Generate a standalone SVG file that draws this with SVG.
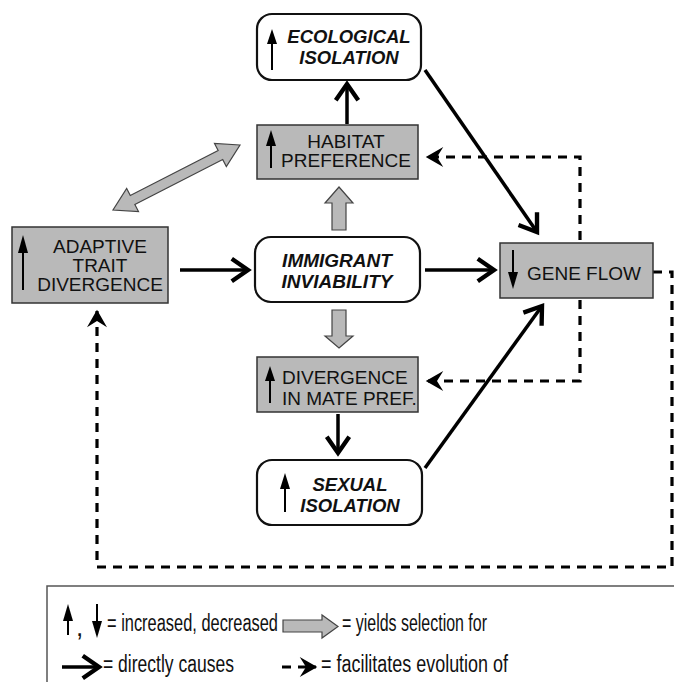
<svg xmlns="http://www.w3.org/2000/svg" width="674" height="682" viewBox="0 0 674 682">
<style>
.t{font-family:"Liberation Sans",Arial,sans-serif;font-size:19px;fill:#111}
.i{font-family:"Liberation Sans",Arial,sans-serif;font-size:18.5px;font-weight:bold;font-style:italic;fill:#111}
.lg{font-family:"Liberation Sans",Arial,sans-serif;font-size:23px;fill:#111}
.rbox{fill:#fff;stroke:#111;stroke-width:2.2}
.gbox{fill:#b9b9b9;stroke:#333;stroke-width:1.5}
.c{fill:none;stroke:#000;stroke-width:3.5}
.d{fill:none;stroke:#000;stroke-width:3.2;stroke-dasharray:9 7}
.ia{stroke:#000;stroke-width:2}
.blk{fill:#b9b9b9;stroke:#444;stroke-width:1.2}
</style>
<defs>
<marker id="oa" markerUnits="userSpaceOnUse" markerWidth="30" markerHeight="30" viewBox="-16 -12 20 24" refX="0" refY="0" orient="auto">
<path d="M-13,-9 L0,0 L-13,9" fill="none" stroke="#000" stroke-width="3.5"/>
</marker>
<marker id="da" markerUnits="userSpaceOnUse" markerWidth="30" markerHeight="30" viewBox="-16 -12 20 24" refX="0" refY="0" orient="auto">
<path d="M1,0 L-13,-8 L-8,0 L-13,8 Z" fill="#000"/>
</marker>
</defs>
<rect width="674" height="682" fill="#fff"/>

<g id="connectors">
<line class="c" x1="347" y1="124" x2="347" y2="84" marker-end="url(#oa)"/>
<line class="c" x1="180" y1="270" x2="248" y2="270" marker-end="url(#oa)"/>
<line class="c" x1="425" y1="270" x2="494" y2="270" marker-end="url(#oa)"/>
<line class="c" x1="425" y1="70" x2="537" y2="232" marker-end="url(#oa)"/>
<line class="c" x1="425" y1="468" x2="542" y2="306" marker-end="url(#oa)"/>
<line class="c" x1="338" y1="414" x2="338" y2="453" marker-end="url(#oa)"/>
<path class="d" d="M580,240 V157 H427" marker-end="url(#da)"/>
<path class="d" d="M580,300 V381 H427" marker-end="url(#da)"/>
<path class="d" d="M653,272 H672 V567 H97 V311" marker-end="url(#da)"/>
<polygon class="blk" points="339,187 353,203 346,203 346,230 332,230 332,203 325,203"/>
<polygon class="blk" points="339,348 353,336 346,336 346,310 332,310 332,336 325,336"/>
<polygon class="blk" points="240,145 214.5,143.45 218.14,150.57 130.3,195.53 126.66,188.41 113,210 138.5,211.55 134.86,204.43 222.7,159.47 226.34,166.59"/>
</g>

<g id="ecological">
<rect class="rbox" x="257" y="14" width="164" height="66" rx="15"/>
<line class="ia" x1="272" y1="70" x2="272" y2="38"/>
<path d="M272,29 L277,44 L267,44 Z"/>
<text class="i" x="349" y="43" text-anchor="middle">ECOLOGICAL</text>
<text class="i" x="349" y="64" text-anchor="middle">ISOLATION</text>
</g>

<g id="habitat">
<rect class="gbox" x="257" y="125" width="161" height="54"/>
<line class="ia" x1="271" y1="168" x2="271" y2="138"/>
<path d="M271,130 L276,146 L266,146 Z"/>
<text class="t" x="346" y="148" text-anchor="middle">HABITAT</text>
<text class="t" x="346" y="167" text-anchor="middle">PREFERENCE</text>
</g>

<g id="adaptive">
<rect class="gbox" x="12" y="227" width="156" height="76"/>
<line class="ia" x1="23" y1="290" x2="23" y2="243"/>
<path d="M23,235 L28,253 L18,253 Z"/>
<text class="t" x="100" y="253" text-anchor="middle">ADAPTIVE</text>
<text class="t" x="100" y="272" text-anchor="middle">TRAIT</text>
<text class="t" x="100" y="291" text-anchor="middle">DIVERGENCE</text>
</g>

<g id="immigrant">
<rect class="rbox" x="255" y="237" width="165" height="65" rx="16"/>
<text class="i" x="337" y="267" text-anchor="middle" style="font-size:19px">IMMIGRANT</text>
<text class="i" x="337" y="288" text-anchor="middle" style="font-size:19px">INVIABILITY</text>
</g>

<g id="geneflow">
<rect class="gbox" x="500" y="243" width="153" height="55"/>
<line class="ia" x1="513" y1="250" x2="513" y2="280"/>
<path d="M513,289 L518,272 L508,272 Z"/>
<text class="t" x="527" y="280">GENE FLOW</text>
</g>

<g id="divergence">
<rect class="gbox" x="257" y="357" width="161" height="55"/>
<line class="ia" x1="270" y1="403" x2="270" y2="374"/>
<path d="M270,366 L275,381 L265,381 Z"/>
<text class="t" x="282" y="384">DIVERGENCE</text>
<text class="t" x="282" y="405">IN MATE PREF.</text>
</g>

<g id="sexual">
<rect class="rbox" x="257" y="460" width="165" height="65" rx="15"/>
<line class="ia" x1="285" y1="512" x2="285" y2="480"/>
<path d="M285,473 L290,489 L280,489 Z"/>
<text class="i" x="350" y="491" text-anchor="middle">SEXUAL</text>
<text class="i" x="350" y="512" text-anchor="middle">ISOLATION</text>
</g>

<g id="legend">
<rect x="47" y="586" width="640" height="110" fill="none" stroke="#555" stroke-width="1.5"/>
<line class="ia" x1="68" y1="635" x2="68" y2="612"/>
<path d="M68,604 L73,621 L63,621 Z"/>
<text class="lg" x="76" y="636" style="font-size:26px">,</text>
<line class="ia" x1="97" y1="604" x2="97" y2="628"/>
<path d="M97,638 L102,621 L92,621 Z"/>
<text class="lg" x="107" y="631" textLength="171" lengthAdjust="spacingAndGlyphs">= increased, decreased</text>
<polygon class="blk" points="283,620 322,620 322,615 338,626.5 322,638 322,632 283,632"/>
<text class="lg" x="342" y="631" textLength="145" lengthAdjust="spacingAndGlyphs">= yields selection for</text>
<line class="c" x1="62" y1="667" x2="99" y2="667" marker-end="url(#oa)"/>
<text class="lg" x="103" y="672" textLength="131" lengthAdjust="spacingAndGlyphs">= directly causes</text>
<line class="d" x1="282" y1="667" x2="316" y2="667" marker-end="url(#da)"/>
<text class="lg" x="321" y="672" textLength="187" lengthAdjust="spacingAndGlyphs">= facilitates evolution of</text>
</g>
</svg>
